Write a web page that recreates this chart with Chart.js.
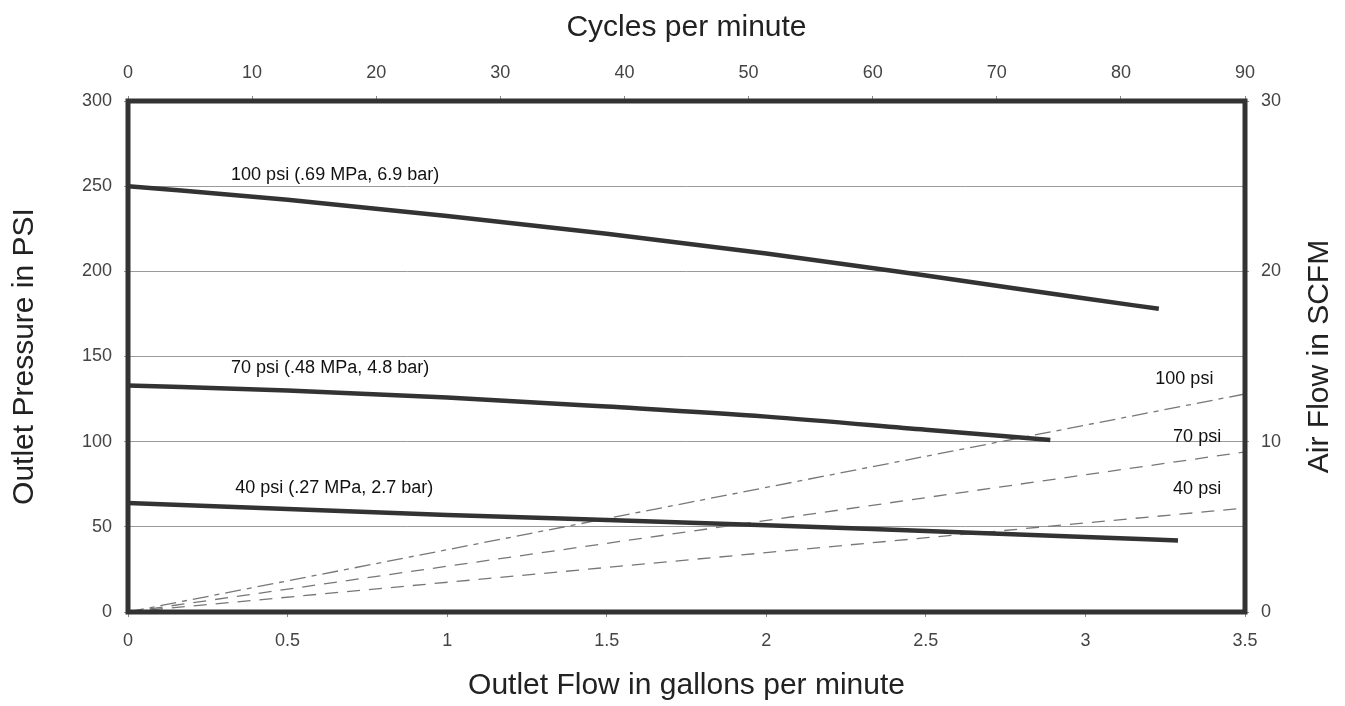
<!DOCTYPE html>
<html>
<head>
<meta charset="utf-8">
<script src="https://cdn.jsdelivr.net/npm/chart.js@4.4.1/dist/chart.umd.min.js"></script>
<style>
  html, body { margin: 0; padding: 0; background: #fff; }
  #wrap { width: 1345px; height: 706px; }
</style>
</head>
<body>
<div id="wrap"><canvas id="pump"></canvas></div>
<script>
// outlet pressure curves (gpm -> psi)
const flow100 = [0, 0.5, 1, 1.5, 2, 2.5, 3, 3.23];
const psi100 = [250, 242, 232.5, 222, 210.5, 197.5, 184, 178];
const flow70 = [0, 0.5, 1, 1.5, 2, 2.5, 2.89];
const psi70 = [133, 130, 126, 120.6, 114.7, 107, 101];
const flow40 = [0, 0.5, 1, 1.5, 2, 2.5, 3, 3.29];
const psi40 = [64, 60.5, 57, 54, 51, 47.5, 44, 42];

// air consumption lines (gpm -> SCFM)
const airFlow = [0, 3.5];
const air100 = [0, 12.8];
const air70 = [0, 9.4];
const air40 = [0, 6.1];

// annotations, in data units
const curveLabels = [
  { text: "100 psi (.69 MPa, 6.9 bar)", x: 0.323, y: 256.6, axis: "y", align: "left" },
  { text: "70 psi (.48 MPa, 4.8 bar)", x: 0.323, y: 143.3, axis: "y", align: "left" },
  { text: "40 psi (.27 MPa, 2.7 bar)", x: 0.336, y: 72.8, axis: "y", align: "left" },
  { text: "100 psi", x: 3.31, y: 13.7, axis: "y2", align: "center" },
  { text: "70 psi", x: 3.35, y: 10.3, axis: "y2", align: "center" },
  { text: "40 psi", x: 3.35, y: 7.2, axis: "y2", align: "center" }
];
const rightTitle = "Air Flow in SCFM";

const pts = (xs, ys) => xs.map((x, i) => ({ x: x, y: ys[i] }));

const FONT = "Liberation Sans, Arial, sans-serif";
const tickFont = { family: FONT, size: 18 };
const titleFont = { family: FONT, size: 30 };
const plain = (v) => String(v);

const solid = (d) => ({
  data: d, yAxisID: "y", borderColor: "#333", borderWidth: 4.5,
  pointRadius: 0, tension: 0.4, cubicInterpolationMode: "monotone", fill: false
});
const dashed = (d, dash) => ({
  data: d, yAxisID: "y2", borderColor: "#777", borderWidth: 1.3,
  borderDash: dash, pointRadius: 0, fill: false
});

const frame = {
  id: "frame",
  afterDatasetsDraw(chart) {
    const { ctx, chartArea: a, scales } = chart;
    ctx.save();
    ctx.fillStyle = "#111";
    ctx.font = "18px " + FONT;
    ctx.textBaseline = "middle";
    curveLabels.forEach((l) => {
      ctx.textAlign = l.align;
      ctx.fillText(l.text, scales.x.getPixelForValue(l.x), scales[l.axis].getPixelForValue(l.y));
    });
    ctx.strokeStyle = "#333";
    ctx.lineWidth = 5;
    ctx.strokeRect(a.left, a.top, a.right - a.left, a.bottom - a.top);

    // right title reads bottom to top, like the left one
    ctx.fillStyle = "#222";
    ctx.font = "30px " + FONT;
    ctx.textAlign = "center";
    ctx.translate(scales.y2.right - 25, (a.top + a.bottom) / 2);
    ctx.rotate(-Math.PI / 2);
    ctx.fillText(rightTitle, 0, 0);
    ctx.restore();
  }
};

new Chart(document.getElementById("pump"), {
  type: "line",
  data: {
    datasets: [
      solid(pts(flow100, psi100)),
      solid(pts(flow70, psi70)),
      solid(pts(flow40, psi40)),
      dashed(pts(airFlow, air100), [16, 6, 5, 6]),
      dashed(pts(airFlow, air70), [13, 9]),
      dashed(pts(airFlow, air40), [13, 9])
    ]
  },
  options: {
    responsive: true,
    maintainAspectRatio: false,
    animation: false,
    layout: { padding: 0 },
    plugins: { legend: { display: false }, tooltip: { enabled: false } },
    scales: {
      x: {
        type: "linear", position: "bottom", min: 0, max: 3.5,
        ticks: { stepSize: 0.5, color: "#444", font: tickFont, padding: 13, maxRotation: 0, callback: plain },
        grid: { drawOnChartArea: false, drawTicks: true, tickLength: 5, color: "#888" },
        border: { display: false },
        title: { display: true, text: "Outlet Flow in gallons per minute", color: "#222", font: titleFont, padding: { top: 0, bottom: 2 } },
        afterFit: (s) => { s.height = 94; }
      },
      x2: {
        type: "linear", position: "top", min: 0, max: 90,
        ticks: { stepSize: 10, color: "#444", font: tickFont, padding: 12, maxRotation: 0, callback: plain },
        grid: { drawOnChartArea: false, drawTicks: true, tickLength: 5, color: "#888" },
        border: { display: false },
        title: { display: true, text: "Cycles per minute", color: "#222", font: titleFont, padding: { top: 10, bottom: 0 } },
        afterFit: (s) => { s.height = 101; }
      },
      y: {
        type: "linear", position: "left", min: 0, max: 300,
        ticks: { stepSize: 50, color: "#444", font: tickFont, padding: 12, callback: plain },
        grid: { color: "#9a9a9a", lineWidth: 1, drawTicks: true, tickLength: 4 },
        border: { display: false },
        title: { display: true, text: "Outlet Pressure in PSI", color: "#222", font: titleFont, padding: { top: 7, bottom: 0 } },
        afterFit: (s) => { s.width = 128; }
      },
      y2: {
        type: "linear", position: "right", min: 0, max: 30,
        ticks: { stepSize: 10, color: "#444", font: tickFont, padding: 12, callback: plain },
        grid: { drawOnChartArea: false, drawTicks: true, tickLength: 4, color: "#888" },
        border: { display: false },
        title: { display: false },
        afterFit: (s) => { s.width = 100; }
      }
    }
  },
  plugins: [frame]
});
</script>
</body>
</html>
